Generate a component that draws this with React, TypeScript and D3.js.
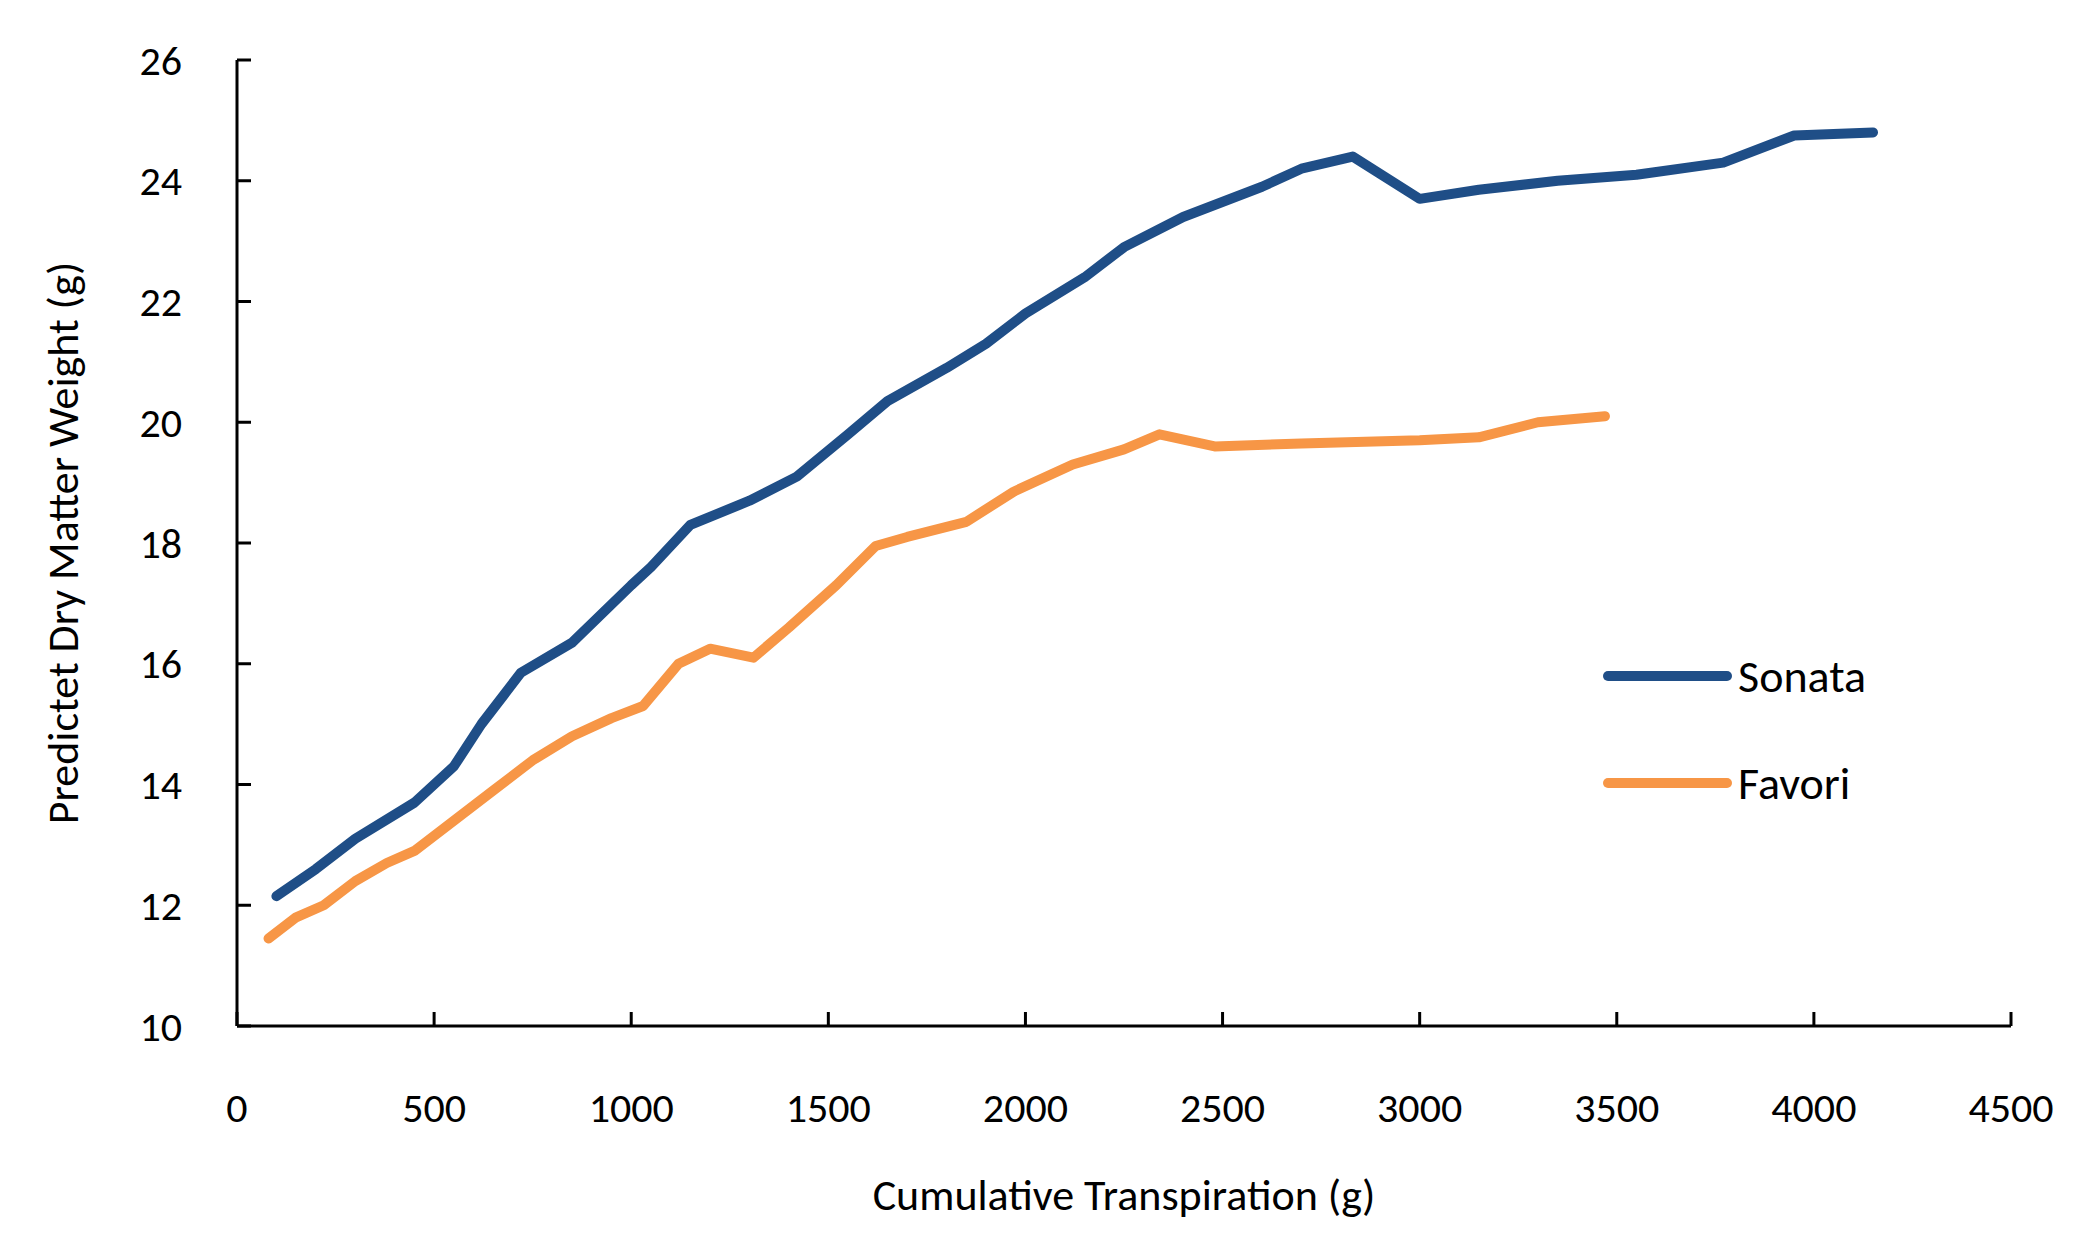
import * as d3 from 'd3';

const sonataX = [100, 200, 300, 450, 550, 620, 720, 850, 1000, 1050, 1150, 1300, 1420, 1550, 1650, 1800, 1900, 2000, 2150, 2250, 2400, 2600, 2700, 2830, 3000, 3150, 3350, 3550, 3770, 3950, 4150];
const sonataY = [12.15, 12.6, 13.1, 13.7, 14.3, 15.0, 15.85, 16.35, 17.3, 17.6, 18.3, 18.7, 19.1, 19.8, 20.35, 20.9, 21.3, 21.8, 22.4, 22.9, 23.4, 23.9, 24.2, 24.4, 23.7, 23.85, 24.0, 24.1, 24.3, 24.75, 24.8];
const favoriX = [80, 150, 220, 300, 380, 450, 550, 650, 750, 850, 950, 1030, 1120, 1200, 1310, 1400, 1520, 1620, 1700, 1850, 1970, 2120, 2250, 2340, 2480, 2700, 3000, 3150, 3300, 3470];
const favoriY = [11.45, 11.8, 12.0, 12.4, 12.7, 12.9, 13.4, 13.9, 14.4, 14.8, 15.1, 15.3, 16.0, 16.25, 16.1, 16.6, 17.3, 17.95, 18.1, 18.35, 18.85, 19.3, 19.55, 19.8, 19.6, 19.65, 19.7, 19.75, 20.0, 20.1];
const xTicks = [0, 500, 1000, 1500, 2000, 2500, 3000, 3500, 4000, 4500];
const yTicks = [10, 12, 14, 16, 18, 20, 22, 24, 26];
const series = [
  { name: 'Sonata', xs: sonataX, ys: sonataY, color: '#1f4e87' },
  { name: 'Favori', xs: favoriX, ys: favoriY, color: '#f79646' },
];

const font = 'Carlito, "Open Sans", "Liberation Sans", sans-serif';

export default function App() {
  const x = d3.scaleLinear().domain([0, 4500]).range([237, 2011]);
  const y = d3.scaleLinear().domain([10, 26]).range([1026, 60]);
  const line = d3.line<[number, number]>().x((d) => x(d[0])).y((d) => y(d[1]));

  return (
    <svg width={2085} height={1241} style={{ position: 'absolute', left: 0, top: 0, background: '#fff' }} fontFamily={font}>
      {series.map((s) => (
        <path key={s.name} d={line(s.xs.map((v, i) => [v, s.ys[i]]))!} fill="none" stroke={s.color} strokeWidth={10} strokeLinejoin="round" strokeLinecap="round" />
      ))}
      <line x1={237} x2={237} y1={60} y2={1026} stroke="#000" strokeWidth={3} />
      <line x1={237} x2={2011} y1={1026} y2={1026} stroke="#000" strokeWidth={3} />
      {yTicks.map((t) => (
        <g key={t}>
          <line x1={237} x2={251} y1={y(t)} y2={y(t)} stroke="#000" strokeWidth={3} />
          <text x={182} y={y(t)} dy="0.35em" textAnchor="end" fontSize={42}>{t}</text>
        </g>
      ))}
      {xTicks.map((t) => (
        <g key={t}>
          <line x1={x(t)} x2={x(t)} y1={1026} y2={1012} stroke="#000" strokeWidth={3} />
          <text x={x(t)} y={1122} textAnchor="middle" fontSize={42}>{t}</text>
        </g>
      ))}
      <text x={1124} y={1210} textAnchor="middle" fontSize={44}>Cumulative Transpiration (g)</text>
      <text transform="translate(78,543) rotate(-90)" textAnchor="middle" fontSize={44}>Predictet Dry Matter Weight (g)</text>
      {series.map((s, i) => (
        <g key={s.name}>
          <line x1={1608} x2={1727} y1={676 + i * 107} y2={676 + i * 107} stroke={s.color} strokeWidth={10} strokeLinecap="round" />
          <text x={1738} y={676 + i * 107} dy="0.35em" fontSize={46}>{s.name}</text>
        </g>
      ))}
    </svg>
  );
}
